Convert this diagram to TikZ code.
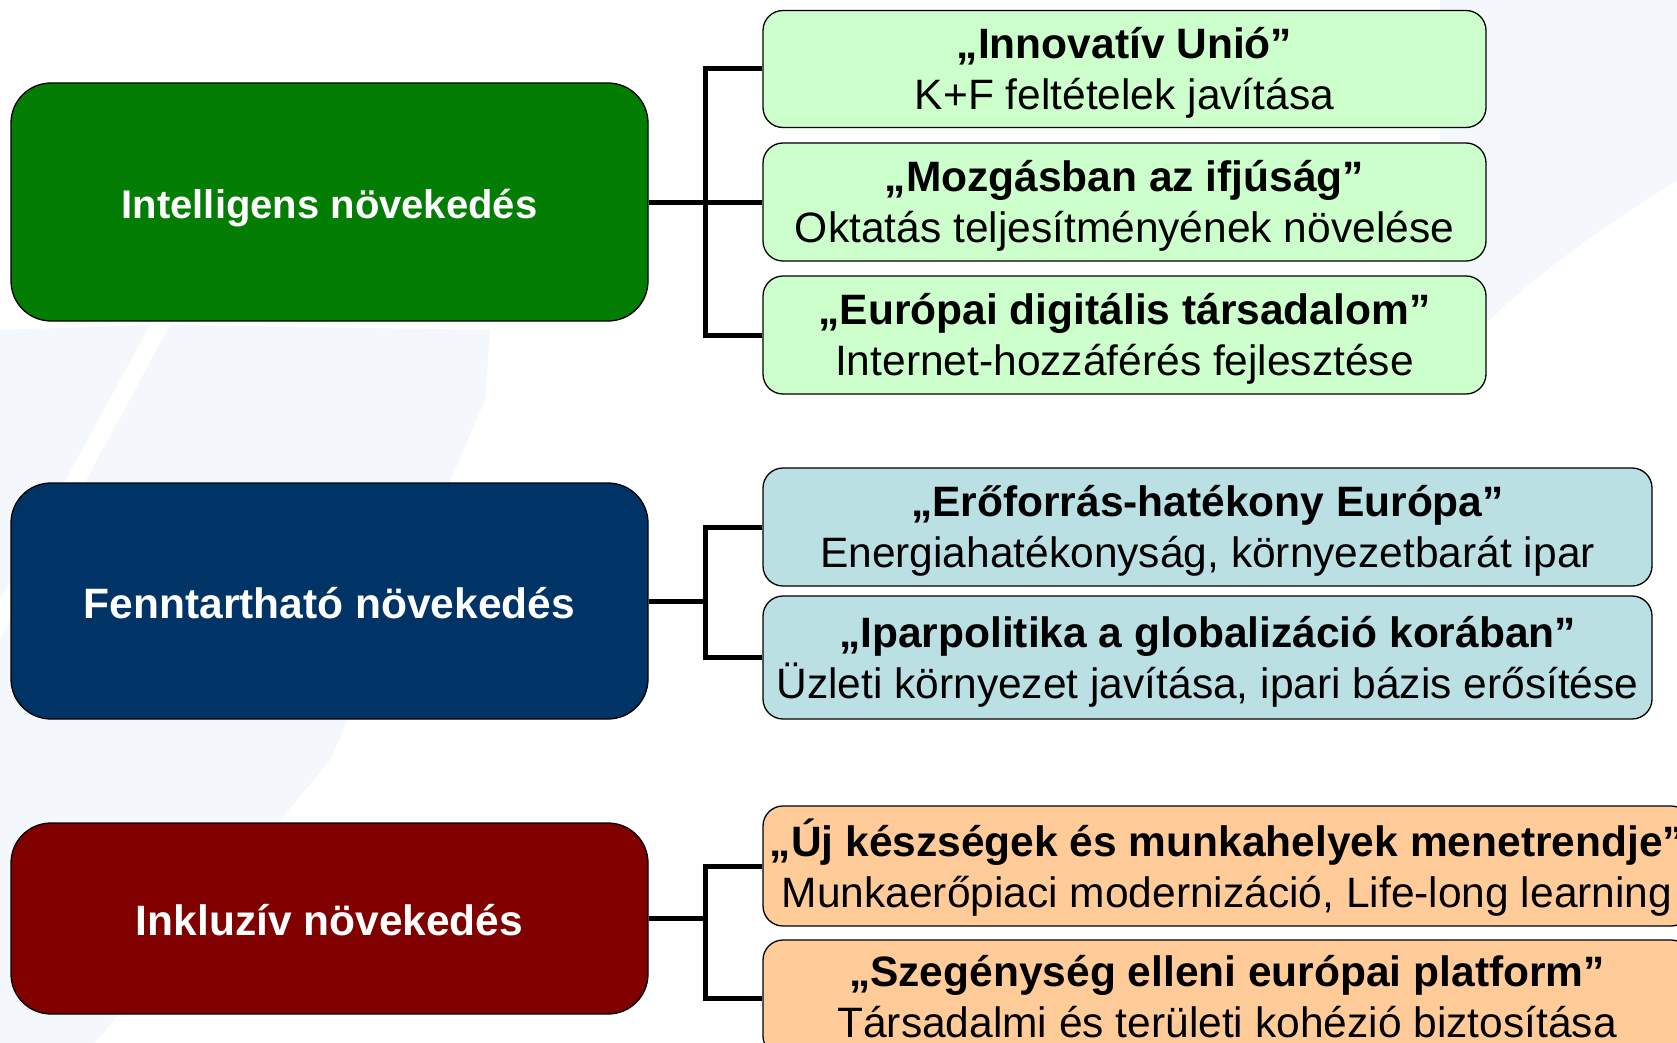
\documentclass[tikz,border=0pt]{standalone}
\usepackage{fontspec}
\setmainfont{Liberation Sans}
\begin{document}
\begin{tikzpicture}[x=1pt,y=-1pt,
  mainbox/.style={draw=black, line width=1.3pt, rounded corners=40pt, text=white,
    font=\fontsize{42.5}{50}\selectfont\bfseries, inner sep=0pt,
    text height=34pt, text depth=0pt},
  subbox/.style={draw=black, line width=1.3pt, rounded corners=20pt, inner sep=0pt},
  subtext/.style={text=black, font=\fontsize{42.5}{51}\selectfont, inner sep=0pt,
    align=center, yshift=-4pt},
  link/.style={line width=5pt, draw=black},
  wmark/.style={fill=wm, draw=none},
]
\definecolor{cgreen}{RGB}{3,125,3}
\definecolor{cblue}{RGB}{0,51,102}
\definecolor{cred}{RGB}{128,0,0}
\definecolor{lgreen}{RGB}{204,255,204}
\definecolor{lblue}{RGB}{187,224,227}
\definecolor{lorange}{RGB}{255,204,153}
\definecolor{wm}{RGB}{244,247,251}
\useasboundingbox (0,0) rectangle (1677,1043);
\fill[white] (0,0) rectangle (1677,1043);
\begin{scope}
\clip (0,0) rectangle (1677,1043);
% faint watermark
\fill[wmark] (0,330) -- (150,325) -- (0,600) -- cycle;
\fill[wmark] (0,640) -- (170,325) -- (490,330) -- (485,400) -- (330,760) -- (95,1043) -- (0,1043) -- cycle;
\fill[wmark] (1440,0) -- (1677,0) -- (1677,180) .. controls (1600,230) and (1540,270) .. (1490,320) -- (1440,320) -- cycle;
% left boxes
\node[mainbox, fill=cgreen, minimum width=637pt, minimum height=238pt, font=\fontsize{40}{48}\selectfont\bfseries, text height=32pt] (L1) at (329.5,202) {Intelligens növekedés};
\node[mainbox, fill=cblue, minimum width=637pt, minimum height=236pt] (L2) at (329.5,601) {Fenntartható növekedés};
\node[mainbox, fill=cred, minimum width=637pt, minimum height=191pt] (L3) at (329.5,918.5) {Inkluzív növekedés};
% right boxes
\node[subbox, fill=lgreen, minimum width=723pt, minimum height=117pt,
  label={[subtext]center:{\textbf{„Innovatív Unió”}\\K+F feltételek javítása}}] (G1) at (1124.5,69) {};
\node[subbox, fill=lgreen, minimum width=723pt, minimum height=118pt,
  label={[subtext]center:{\textbf{„Mozgásban az ifjúság”}\\Oktatás teljesítményének növelése}}] (G2) at (1124.5,202) {};
\node[subbox, fill=lgreen, minimum width=723pt, minimum height=118pt,
  label={[subtext]center:{\textbf{„Európai digitális társadalom”}\\Internet-hozzáférés fejlesztése}}] (G3) at (1124.5,335) {};
\node[subbox, fill=lblue, minimum width=889pt, minimum height=118pt,
  label={[subtext]center:{\textbf{„Erőforrás-hatékony Európa”}\\Energiahatékonyság, környezetbarát ipar}}] (B1) at (1207.5,527) {};
\node[subbox, fill=lblue, minimum width=889pt, minimum height=123pt,
  label={[subtext]center:{\textbf{„Iparpolitika a globalizáció korában”}\\Üzleti környezet javítása, ipari bázis erősítése}}] (B2) at (1207.5,657.5) {};
\node[subbox, fill=lorange, minimum width=928pt, minimum height=120pt,
  label={[subtext, yshift=2pt]center:{\textbf{„Új készségek és munkahelyek menetrendje”}\\Munkaerőpiaci modernizáció, Life-long learning}}] (O1) at (1227,866) {};
\node[subbox, fill=lorange, minimum width=928pt, minimum height=116pt,
  label={[subtext, yshift=5pt]center:{\textbf{„Szegénység elleni európai platform”}\\Társadalmi és területi kohézió biztosítása}}] (O2) at (1227,998) {};
% junctions
\coordinate (J1) at (705,202);
\coordinate (J2) at (705,601);
\coordinate (J3) at (705,918.5);
\draw[link] (L1.east) -- (J1);
\draw[link] (G1.west) -| (J1);
\draw[link] (G2.west) -- (J1);
\draw[link] (G3.west) -| (J1);
\draw[link] (L2.east) -- (J2);
\draw[link] (B1.west) -| (J2);
\draw[link] (B2.west) -| (J2);
\draw[link] (L3.east) -- (J3);
\draw[link] (O1.west) -| (J3);
\draw[link] (O2.west) -| (J3);
\end{scope}
\end{tikzpicture}
\end{document}
